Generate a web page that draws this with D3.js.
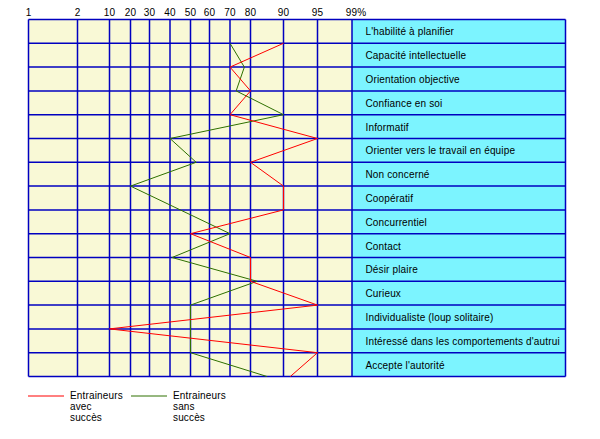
<!DOCTYPE html>
<html>
<head>
<meta charset="utf-8">
<script src="https://cdn.jsdelivr.net/npm/d3@7"></script>
<style>
  body { margin: 0; background: #fff; }
  text { font-family: "Liberation Sans", Arial, sans-serif; font-size: 10px; letter-spacing: 0.15px; }
</style>
</head>
<body>
<div id="chart"></div>
<script>
const categories = [
    "L'habilité à planifier",
    "Capacité intellectuelle",
    "Orientation objective",
    "Confiance en soi",
    "Informatif",
    "Orienter vers le travail en équipe",
    "Non concerné",
    "Coopératif",
    "Concurrentiel",
    "Contact",
    "Désir plaire",
    "Curieux",
    "Individualiste (loup solitaire)",
    "Intéressé dans les comportements d'autrui",
    "Accepte l'autorité"
];
const tickValues = [1, 2, 10, 20, 30, 40, 50, 60, 70, 80, 90, 95, 99];
const tickLabels = ["1", "2", "10", "20", "30", "40", "50", "60", "70", "80", "90", "95", "99%"];
const withSuccess = [90, 70, 80, 70, 95, 80, 90, 90, 50, 80, 80, 95, 10, 95, 91];
const withoutSuccess = [70, 77, 73, 90, 40, 53, 20, 45, 70, 41, 82, 50, 50, 50, 85];
const seriesNames = [["Entraineurs", "avec", "succès"], ["Entraineurs", "sans", "succès"]];

const WIDTH = 600;
const HEIGHT = 439;
const TOP = 19.5;
const BOTTOM = 376.5;
const PANEL_RIGHT = 565.5;

const svg = d3.select('#chart')
    .append('svg')
    .attr('width', WIDTH)
    .attr('height', HEIGHT);

// uneven percentage scale, one segment per tick
const x = d3.scaleLinear()
    .domain(tickValues)
    .range([28.5, 77.5, 109.5, 130.5, 149.5, 170, 190.5, 209.5, 230, 250.5, 283.5, 317.5, 352]);

const y = d3.scaleBand()
    .domain(categories)
    .range([TOP, BOTTOM]);

// backgrounds
svg.append('rect')
    .attr('x', x(1)).attr('y', TOP)
    .attr('width', x(99) - x(1)).attr('height', BOTTOM - TOP)
    .style('fill', '#f9f9d6');
svg.append('rect')
    .attr('x', x(99)).attr('y', TOP)
    .attr('width', PANEL_RIGHT - x(99)).attr('height', BOTTOM - TOP)
    .style('fill', '#7cf4ff');

// vertical grid
svg.selectAll('line.v')
    .data(tickValues)
    .enter()
    .append('line')
    .attr('x1', d => x(d)).attr('x2', d => x(d))
    .attr('y1', TOP).attr('y2', BOTTOM)
    .style('stroke', '#0000c0').style('stroke-width', 1.5);
svg.append('line')
    .attr('x1', PANEL_RIGHT).attr('x2', PANEL_RIGHT)
    .attr('y1', TOP).attr('y2', BOTTOM)
    .style('stroke', '#0000c0').style('stroke-width', 1.5);

// horizontal grid
const rowEdges = [TOP].concat(categories.map(c => y(c) + y.bandwidth()));
svg.selectAll('line.h')
    .data(rowEdges)
    .enter()
    .append('line')
    .attr('x1', x(1)).attr('x2', PANEL_RIGHT)
    .attr('y1', d => d).attr('y2', d => d)
    .style('stroke', '#0000c0').style('stroke-width', 1.5);

// top tick labels
svg.selectAll('text.tick')
    .data(tickValues)
    .enter()
    .append('text')
    .attr('x', (d, i) => x(d) + (i === tickValues.length - 1 ? 4 : 0))
    .attr('y', 15.5)
    .attr('text-anchor', 'middle')
    .style('fill', '#000')
    .text((d, i) => tickLabels[i]);

// category labels
svg.selectAll('text.cat')
    .data(categories)
    .enter()
    .append('text')
    .attr('x', x(99) + 13.5)
    .attr('y', d => y(d) + y.bandwidth() / 2 + 4)
    .style('fill', '#000')
    .text(d => d);

// series lines, each point on the bottom edge of its row
const line = d3.line()
    .x(d => x(d[0]))
    .y(d => y(d[1]) + y.bandwidth());

svg.append('path')
    .datum(withoutSuccess.map((v, i) => [v, categories[i]]))
    .attr('d', line)
    .style('fill', 'none')
    .style('stroke', '#2e7000')
    .style('stroke-width', 1);

svg.append('path')
    .datum(withSuccess.map((v, i) => [v, categories[i]]))
    .attr('d', line)
    .style('fill', 'none')
    .style('stroke', '#ff0000')
    .style('stroke-width', 1);

// legend
const legend = svg.selectAll('g.legend')
    .data([{ color: '#ff0000', names: seriesNames[0], x: 28 }, { color: '#2e7000', names: seriesNames[1], x: 131 }])
    .enter()
    .append('g')
    .attr('transform', d => `translate(${d.x},396)`);
legend.append('line')
    .attr('x1', 0).attr('x2', 36)
    .style('stroke', d => d.color).style('stroke-width', 1);
legend.each(function (d) {
    d3.select(this).selectAll('text')
        .data(d.names)
        .enter()
        .append('text')
        .attr('x', 42)
        .attr('y', (t, i) => 2.5 + i * 11.3)
        .style('fill', '#000')
        .text(t => t);
});
</script>
</body>
</html>
